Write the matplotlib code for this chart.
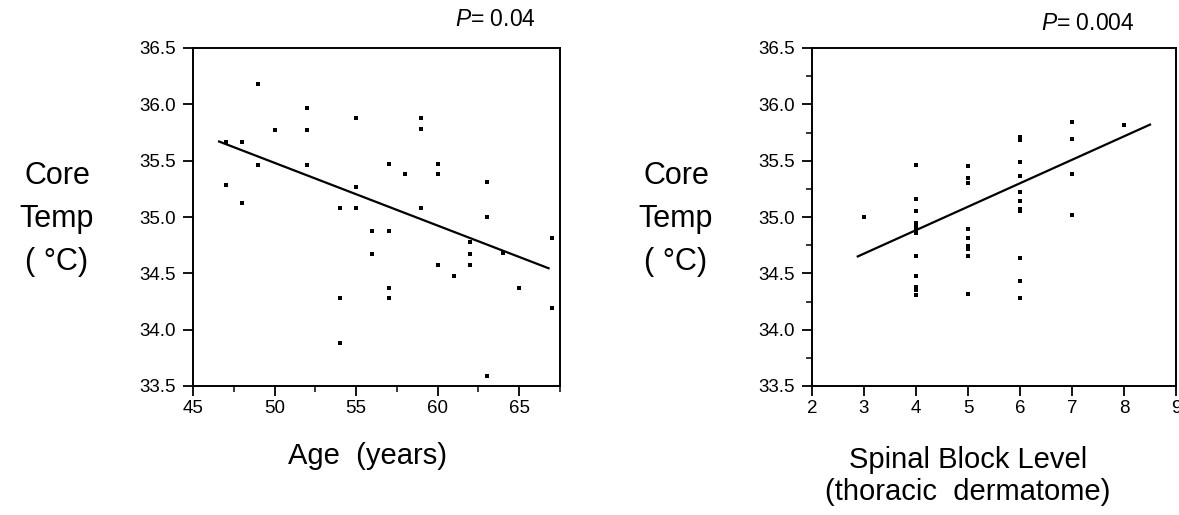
import matplotlib
matplotlib.use("Agg")
import matplotlib.pyplot as plt
from matplotlib.ticker import MultipleLocator

plt.rcParams['font.family'] = ['Liberation Sans', 'DejaVu Sans']
plt.rcParams['mathtext.fontset'] = 'custom'
plt.rcParams['mathtext.rm'] = 'Liberation Sans'
plt.rcParams['mathtext.it'] = 'Liberation Sans:italic'

# left panel: core temperature vs age
age = [47, 47, 48, 48, 49, 49, 50, 52, 52, 52, 54, 54, 54, 55, 55, 55, 56, 56,
       57, 57, 57, 57, 58, 59, 59, 59, 60, 60, 60, 61, 62, 62, 62, 63, 63, 63,
       64, 65, 67, 67]
temp_age = [35.67, 35.28, 35.67, 35.12, 36.18, 35.46, 35.77, 35.97, 35.77, 35.46,
            35.08, 34.28, 33.88, 35.88, 35.27, 35.08, 34.88, 34.67, 35.47, 34.88,
            34.37, 34.28, 35.38, 35.88, 35.78, 35.08, 35.47, 35.38, 34.57, 34.48,
            34.78, 34.67, 34.57, 35.31, 35.00, 33.59, 34.68, 34.37, 34.81, 34.19]
age_fit_x = [46.6, 66.8]
age_fit_y = [35.67, 34.545]

# right panel: core temperature vs spinal block level
block = [3] + [4] * 12 + [5] * 9 + [6] * 11 + [7] * 4 + [8]
temp_block = [35.00,
              35.46, 35.16, 35.05, 34.95, 34.92, 34.89, 34.86, 34.65, 34.48, 34.38, 34.35, 34.31,
              35.45, 35.35, 35.30, 34.89, 34.81, 34.74, 34.72, 34.65, 34.32,
              35.71, 35.68, 35.49, 35.36, 35.22, 35.14, 35.07, 35.05, 34.64, 34.43, 34.28,
              35.84, 35.69, 35.38, 35.02,
              35.82]
block_fit_x = [2.88, 8.5]
block_fit_y = [34.65, 35.82]

W, H = 1179, 515
fig = plt.figure(figsize=(W / 100, H / 100), dpi=100)


def px(x0, y0, x1, y1):
    return [x0 / W, 1 - y1 / H, (x1 - x0) / W, (y1 - y0) / H]


def style(ax):
    for s in ax.spines.values():
        s.set_linewidth(1.4)
    ax.tick_params(axis='both', which='major', direction='out', length=7,
                   width=1.3, labelsize=13.5, pad=3)
    ax.tick_params(axis='both', which='minor', direction='out', length=4, width=1.1)
    ax.tick_params(axis='y', pad=5)
    ax.set_ylim(33.5, 36.5)
    ax.yaxis.set_major_locator(MultipleLocator(0.5))
    ax.yaxis.set_major_formatter('{x:.1f}')


ax1 = fig.add_axes(px(193, 48, 560, 386))
style(ax1)
ax1.scatter(age, temp_age, s=6, marker='s', color='black', linewidths=0)
ax1.plot(age_fit_x, age_fit_y, color='black', lw=1.6)
ax1.set_xlim(45, 67.5)
ax1.xaxis.set_major_locator(MultipleLocator(5))
ax1.xaxis.set_minor_locator(MultipleLocator(2.5))

ax2 = fig.add_axes(px(812, 48, 1176, 386))
style(ax2)
ax2.scatter(block, temp_block, s=6, marker='s', color='black', linewidths=0)
ax2.plot(block_fit_x, block_fit_y, color='black', lw=1.6)
ax2.set_xlim(2, 9)
ax2.xaxis.set_major_locator(MultipleLocator(1))
ax2.yaxis.set_minor_locator(MultipleLocator(0.25))

ylab = dict(fontsize=22, ha='center', va='center', linespacing=1.55)
fig.text(57 / W, 1 - 219 / H, "Core\nTemp\n( °C)", **ylab)
fig.text(676 / W, 1 - 219 / H, "Core\nTemp\n( °C)", **ylab)
fig.text(368 / W, 1 - 456 / H, "Age  (years)", fontsize=21, ha='center', va='center')
fig.text(968 / W, 1 - 476 / H, "Spinal Block Level\n(thoracic  dermatome)",
         fontsize=21, ha='center', va='center', linespacing=1.15)

fig.text(495 / W, 1 - 20 / H, r"$P$= 0.04", fontsize=16.5, ha='center', va='center')
fig.text(1088 / W, 1 - 23 / H, r"$P$= 0.004", fontsize=16.5, ha='center', va='center')

fig.savefig("out.png", dpi=100)
